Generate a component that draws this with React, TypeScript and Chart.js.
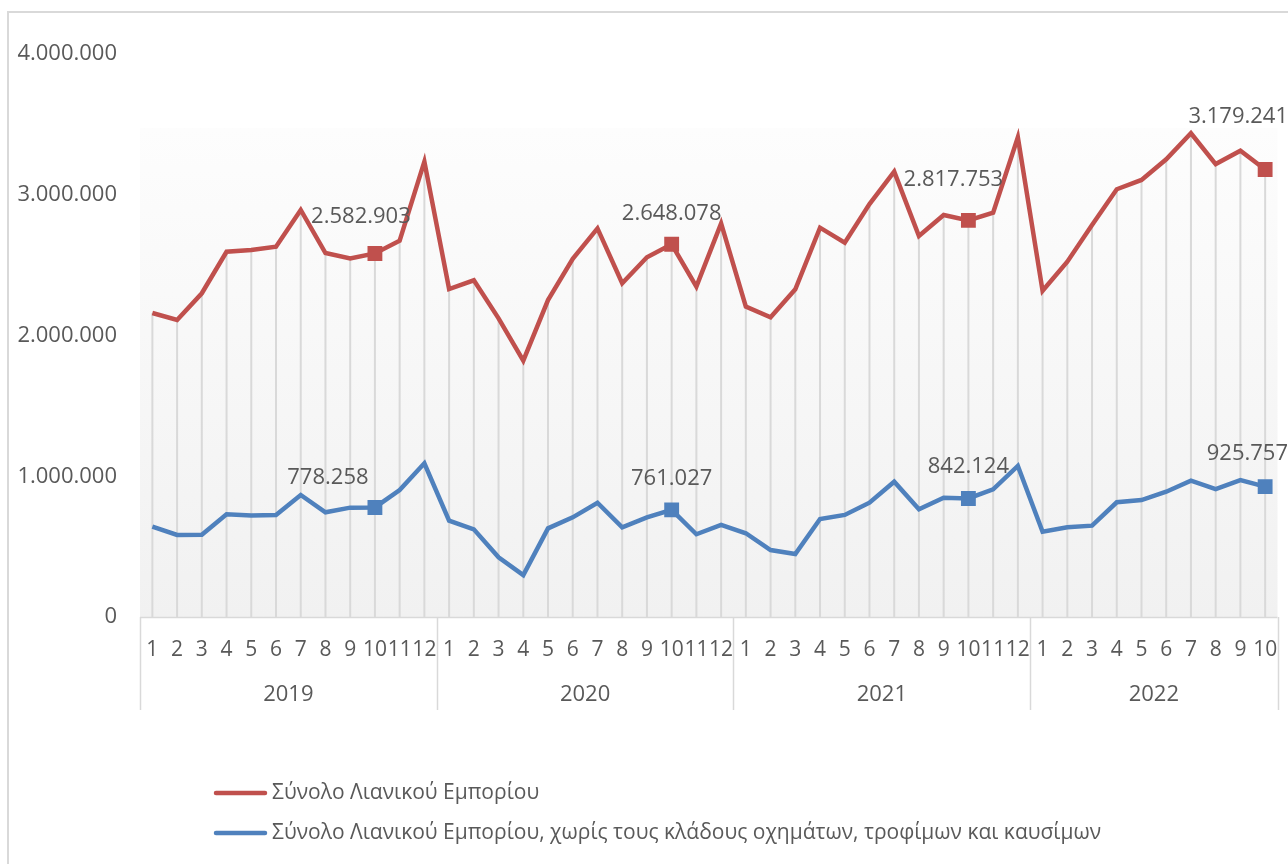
import React, { useEffect, useRef } from "react";
import { Chart, registerables } from "chart.js";

Chart.register(...registerables);

const years = ["2019", "2020", "2021", "2022"];
const monthsPerYear = [12, 12, 12, 10];
const categories: string[] = [];
years.forEach((y, i) => {
  for (let m = 1; m <= monthsPerYear[i]; m++) categories.push(String(m));
});

const totalRetail = [
  2160000, 2110000, 2300000, 2595000, 2607000, 2631000, 2892000, 2586000, 2548000, 2582903, 2674000, 3235000,
  2330000, 2392000, 2122000, 1821000, 2252000, 2545000, 2761000, 2371000, 2556000, 2648078, 2347000, 2797000,
  2205000, 2129000, 2328000, 2766000, 2659000, 2934000, 3164000, 2707000, 2856000, 2817753, 2873000, 3408000,
  2318000, 2524000, 2785000, 3039000, 3105000, 3252000, 3437000, 3218000, 3313000, 3179241,
];

const retailExcl = [
  642000, 583000, 585000, 730000, 722000, 725000, 867000, 744000, 777000, 778258, 902000, 1092000,
  684000, 623000, 424000, 298000, 630000, 708000, 812000, 637000, 708000, 761027, 588000, 654000,
  595000, 476000, 448000, 696000, 725000, 812000, 961000, 765000, 848000, 842124, 907000, 1073000,
  606000, 637000, 649000, 815000, 831000, 890000, 969000, 909000, 973000, 925757,
];

const seriesNames = [
  "Σύνολο Λιανικού Εμπορίου",
  "Σύνολο Λιανικού Εμπορίου, χωρίς τους κλάδους οχημάτων, τροφίμων και καυσίμων",
];

const highlighted = [9, 21, 33, 45];
const yTicks = [0, 1000000, 2000000, 3000000, 4000000];

// label offsets (style only)
const redLabelShift = [[-14, -37], [0, -31], [-15, -41], [0, -53]];
const blueLabelShift = [[-47, -30], [0, -31], [0, -32], [0, -33]];

const RED = "#c0504d";
const BLUE = "#4f81bd";
const TEXT = "#595959";
const GRID = "#d9d9d9";
const FONT = "'Open Sans', sans-serif";

const fmt = (v: number) => String(Math.round(v)).replace(/\B(?=(\d{3})+(?!\d))/g, ".");

const customPlugin = {
  id: "custom",
  beforeDraw(chart: any) {
    const { ctx, chartArea: a } = chart;
    const top = a.top + 74;
    const g = ctx.createLinearGradient(0, top, 0, a.bottom);
    g.addColorStop(0, "#fdfdfd");
    g.addColorStop(1, "#f1f1f1");
    ctx.save();
    ctx.fillStyle = g;
    ctx.fillRect(a.left, top, a.right - a.left, a.bottom - top);
    ctx.restore();
  },
  beforeDatasetsDraw(chart: any) {
    const { ctx, chartArea: a } = chart;
    const meta = chart.getDatasetMeta(0);
    ctx.save();
    ctx.strokeStyle = GRID;
    ctx.lineWidth = 2;
    meta.data.forEach((pt: any) => {
      ctx.beginPath();
      ctx.moveTo(pt.x, pt.y);
      ctx.lineTo(pt.x, a.bottom);
      ctx.stroke();
    });
    ctx.restore();
  },
  afterDatasetsDraw(chart: any) {
    const { ctx, chartArea: a } = chart;
    const xs = chart.scales.x;
    const step = xs.getPixelForValue(1) - xs.getPixelForValue(0);
    ctx.save();
    ctx.strokeStyle = GRID;
    ctx.lineWidth = 1.5;
    ctx.beginPath();
    ctx.moveTo(a.left, a.bottom + 0.5);
    ctx.lineTo(a.right, a.bottom + 0.5);
    ctx.stroke();
    const boxBottom = a.bottom + 93;
    let idx = 0;
    const bounds: number[] = [a.left];
    monthsPerYear.forEach((n) => {
      idx += n;
      const x = idx >= categories.length ? a.right : xs.getPixelForValue(idx) - step / 2;
      bounds.push(x);
    });
    bounds.forEach((x) => {
      ctx.beginPath();
      ctx.moveTo(Math.round(x) + 0.5, a.bottom);
      ctx.lineTo(Math.round(x) + 0.5, boxBottom);
      ctx.stroke();
    });
    ctx.fillStyle = TEXT;
    ctx.font = `21px ${FONT}`;
    ctx.textAlign = "center";
    ctx.textBaseline = "middle";
    categories.forEach((c, i) => {
      ctx.fillText(c, xs.getPixelForValue(i), a.bottom + 33);
    });
    ctx.font = `22px ${FONT}`;
    years.forEach((y, i) => {
      ctx.fillText(y, (bounds[i] + bounds[i + 1]) / 2, a.bottom + 78);
    });
    const W = chart.width;
    const drawLabels = (dsIndex: number, data: number[], shifts: number[][]) => {
      const meta = chart.getDatasetMeta(dsIndex);
      highlighted.forEach((hi, k) => {
        const pt = meta.data[hi];
        const txt = fmt(data[hi]);
        const w = ctx.measureText(txt).width;
        let cx = pt.x + shifts[k][0];
        if (cx + w / 2 > W) cx = W - w / 2;
        ctx.fillText(txt, cx, pt.y + shifts[k][1]);
      });
    };
    drawLabels(0, totalRetail, redLabelShift);
    drawLabels(1, retailExcl, blueLabelShift);
    const legendY = [a.bottom + 176, a.bottom + 216];
    const colors = [RED, BLUE];
    ctx.textAlign = "left";
    ctx.font = `21px ${FONT}`;
    seriesNames.forEach((name, i) => {
      ctx.strokeStyle = colors[i];
      ctx.lineWidth = 4.5;
      ctx.lineCap = "round";
      ctx.beginPath();
      ctx.moveTo(216, legendY[i]);
      ctx.lineTo(265, legendY[i]);
      ctx.stroke();
      ctx.fillStyle = TEXT;
      ctx.fillText(name, 272, legendY[i]);
    });
    ctx.restore();
  },
};

export default function App() {
  const ref = useRef<HTMLCanvasElement | null>(null);
  useEffect(() => {
    if (!ref.current) return;
    const pr = (arr: number[], r: number) => arr.map((_, i) => (highlighted.includes(i) ? r : 0));
    const chart = new Chart(ref.current, {
      type: "line",
      data: {
        labels: categories,
        datasets: [
          {
            label: seriesNames[0],
            data: totalRetail,
            borderColor: RED,
            backgroundColor: RED,
            borderWidth: 4.5,
            pointStyle: "rect",
            pointRadius: pr(totalRetail, 10.5),
            pointBorderWidth: 0,
            pointBackgroundColor: RED,
            tension: 0,
          },
          {
            label: seriesNames[1],
            data: retailExcl,
            borderColor: BLUE,
            backgroundColor: BLUE,
            borderWidth: 4.5,
            pointStyle: "rect",
            pointRadius: pr(retailExcl, 10.5),
            pointBorderWidth: 0,
            pointBackgroundColor: BLUE,
            tension: 0,
          },
        ],
      },
      options: {
        responsive: false,
        animation: false,
        layout: { padding: { left: 0, right: 8, top: 54, bottom: 247 } },
        plugins: { legend: { display: false }, tooltip: { enabled: false } },
        scales: {
          x: {
            type: "category",
            offset: true,
            grid: { display: false, drawTicks: false },
            border: { display: false },
            ticks: { display: false },
          },
          y: {
            min: 0,
            max: 4000000,
            afterFit: (s: any) => {
              s.width = 140;
            },
            afterBuildTicks: (s: any) => {
              s.ticks = yTicks.map((v) => ({ value: v }));
            },
            grid: { display: false, drawTicks: false },
            border: { display: false },
            ticks: {
              padding: 23,
              color: TEXT,
              font: { family: "'Open Sans', sans-serif", size: 22 },
              callback: (v: any) => fmt(Number(v)),
            },
          },
        },
      },
      plugins: [customPlugin],
    });
    return () => chart.destroy();
  }, []);
  return (
    <div style={{ position: "fixed", left: 0, top: 0, width: 1288, height: 864, background: "#fff" }}>
      <div
        style={{
          position: "absolute",
          left: 7,
          top: 11,
          right: -2,
          bottom: -2,
          borderLeft: "2px solid #d9d9d9",
          borderTop: "2px solid #d9d9d9",
        }}
      />
      <canvas ref={ref} width={1288} height={864} style={{ position: "absolute", left: 0, top: 0, width: 1288, height: 864 }} />
    </div>
  );
}
